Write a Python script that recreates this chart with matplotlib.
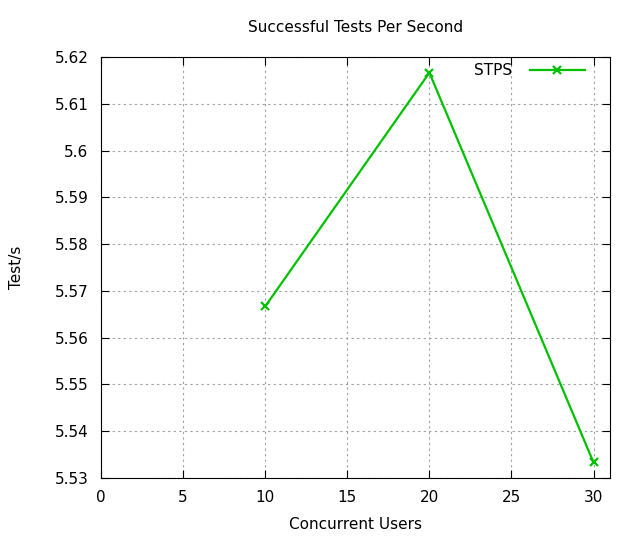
import matplotlib
matplotlib.use("Agg")
import matplotlib.pyplot as plt

users = [10, 20, 30]
stps = [5.5667, 5.6167, 5.5333]
xticks = [0, 5, 10, 15, 20, 25, 30]
yticks = [5.53, 5.54, 5.55, 5.56, 5.57, 5.58, 5.59, 5.6, 5.61, 5.62]

plt.rcParams['font.family'] = 'DejaVu Sans'
fs = 11

fig = plt.figure(figsize=(6.4, 5.4), dpi=100)
ax = fig.add_axes([0.158, 0.115, 0.795, 0.779])

ax.plot(users, stps, color='#00c000', lw=1.6, marker='x', ms=6, mew=1.6, label='STPS')

ax.set_xlim(0, 31)
ax.set_ylim(5.53, 5.62)
ax.set_xticks(xticks)
ax.set_yticks(yticks)
ax.set_yticklabels([('%g' % v) for v in yticks])
ax.tick_params(direction='in', top=True, right=True, length=6, pad=9, colors='black', labelsize=fs)
ax.grid(True, linestyle=(0, (2, 3)), color='#a0a0a0', lw=0.8)

ax.set_title('Successful Tests Per Second', fontsize=fs, pad=18)
ax.set_xlabel('Concurrent Users', fontsize=fs, labelpad=8)
ax.set_ylabel('Test/s', fontsize=fs, labelpad=22)

leg = ax.legend(loc='upper right', bbox_to_anchor=(0.972, 1.012), frameon=False,
                markerfirst=False, fontsize=fs, handlelength=3.6, handletextpad=1.2,
                borderaxespad=0.3)

fig.savefig('out.png', dpi=100)
